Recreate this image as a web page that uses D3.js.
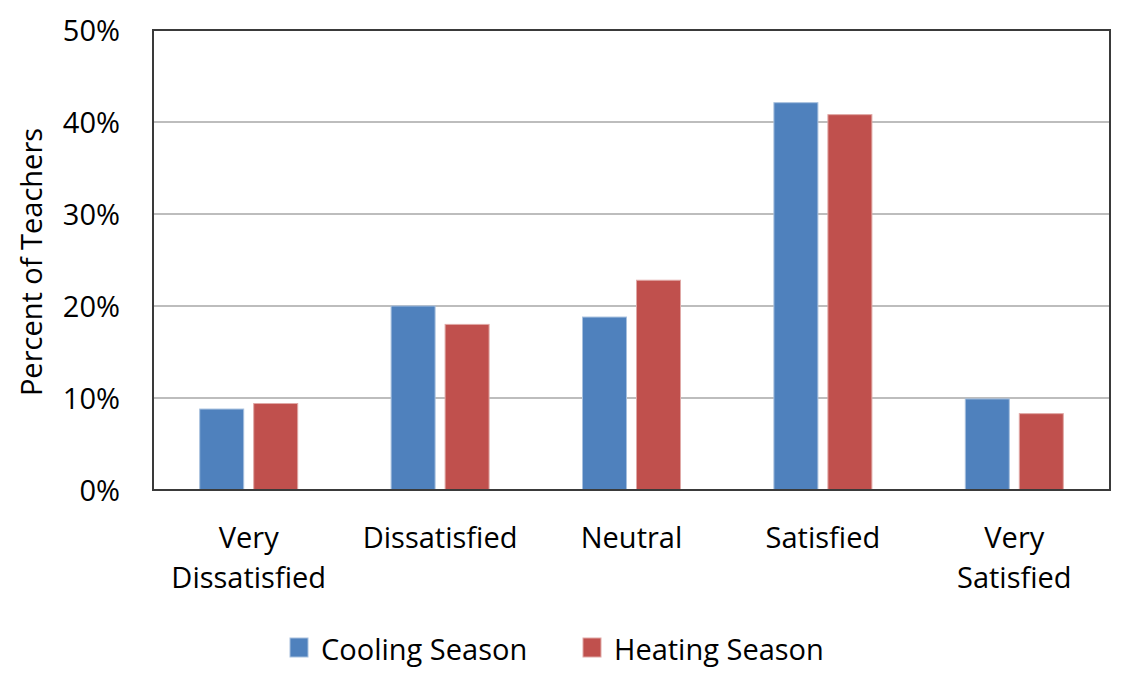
<!DOCTYPE html>
<html>
<head>
<meta charset="utf-8">
<script src="https://cdn.jsdelivr.net/npm/d3@7"></script>
<style>
  html, body { margin: 0; padding: 0; background: #fff; }
  svg { display: block; }
  text { font-family: "Open Sans", "Lato", sans-serif; fill: #000; }
</style>
</head>
<body>
<svg id="chart" width="1122" height="682"></svg>
<script>
const categories = [["Very", "Dissatisfied"], ["Dissatisfied"], ["Neutral"], ["Satisfied"], ["Very", "Satisfied"]];
const seriesNames = ["Cooling Season", "Heating Season"];
const cooling = [8.8, 20.0, 18.8, 42.1, 9.9];
const heating = [9.4, 18.0, 22.8, 40.8, 8.3];
const yTicks = [0, 10, 20, 30, 40, 50];
const colors = ["#4f81bd", "#c0504d"];
const strokeColors = ["#a7c0de", "#e0a8a6"];

const svg = d3.select("#chart");
const pLeft = 153, pRight = 1110, pTop = 30, pBottom = 490;
const fontSize = "29px";

const x = d3.scaleBand().domain(d3.range(categories.length)).range([pLeft, pRight]);
const y = d3.scaleLinear().domain([0, 50]).range([pBottom, pTop]);

// gridlines
svg.append("g").selectAll("line").data(yTicks.filter(d => d > 0 && d < 50)).join("line")
  .attr("x1", pLeft).attr("x2", pRight)
  .attr("y1", d => y(d)).attr("y2", d => y(d))
  .attr("stroke", "#bdbdbd").attr("stroke-width", 2);

// bars
const barW = 44, gap = 10;
const series = [cooling, heating];
series.forEach((vals, si) => {
  svg.append("g").selectAll("rect").data(vals).join("rect")
    .attr("x", (d, i) => x(i) + x.bandwidth() / 2 + (si === 0 ? -(barW + gap / 2) : gap / 2))
    .attr("y", d => y(d))
    .attr("width", barW)
    .attr("height", d => pBottom - y(d))
    .attr("fill", colors[si])
    .attr("stroke", strokeColors[si]).attr("stroke-width", 1);
});

// frame
svg.append("rect").attr("x", pLeft).attr("y", pTop).attr("width", pRight - pLeft).attr("height", pBottom - pTop)
  .attr("fill", "none").attr("stroke", "#3a3a3a").attr("stroke-width", 2);

// y tick labels
const yAxis = d3.axisLeft(y).tickValues(yTicks).tickFormat(d => d + "%").tickSize(0).tickPadding(33);
const ya = svg.append("g").attr("transform", `translate(${pLeft},0)`).call(yAxis);
ya.select(".domain").remove();
ya.selectAll("text").style("font-family", '"Open Sans", sans-serif').style("font-size", fontSize).attr("fill", "#000").attr("dy", "0.35em");

// y axis title
svg.append("text")
  .attr("transform", `translate(42,262) rotate(-90)`)
  .attr("text-anchor", "middle")
  .style("font-size", fontSize)
  .text("Percent of Teachers");

// category labels
const cat = svg.append("g");
categories.forEach((lines, i) => {
  lines.forEach((ln, li) => {
    cat.append("text")
      .attr("x", x(i) + x.bandwidth() / 2)
      .attr("y", 548 + li * 40)
      .attr("text-anchor", "middle")
      .style("font-size", fontSize)
      .text(ln);
  });
});

// legend
const legendItems = [{ x: 290, tx: 321 }, { x: 583, tx: 614 }];
seriesNames.forEach((name, i) => {
  svg.append("rect").attr("x", legendItems[i].x).attr("y", 638).attr("width", 18).attr("height", 19)
    .attr("fill", colors[i]).attr("stroke", strokeColors[i]).attr("stroke-width", 1);
  svg.append("text").attr("x", legendItems[i].tx).attr("y", 660)
    .style("font-size", fontSize).text(name);
});
</script>
</body>
</html>
